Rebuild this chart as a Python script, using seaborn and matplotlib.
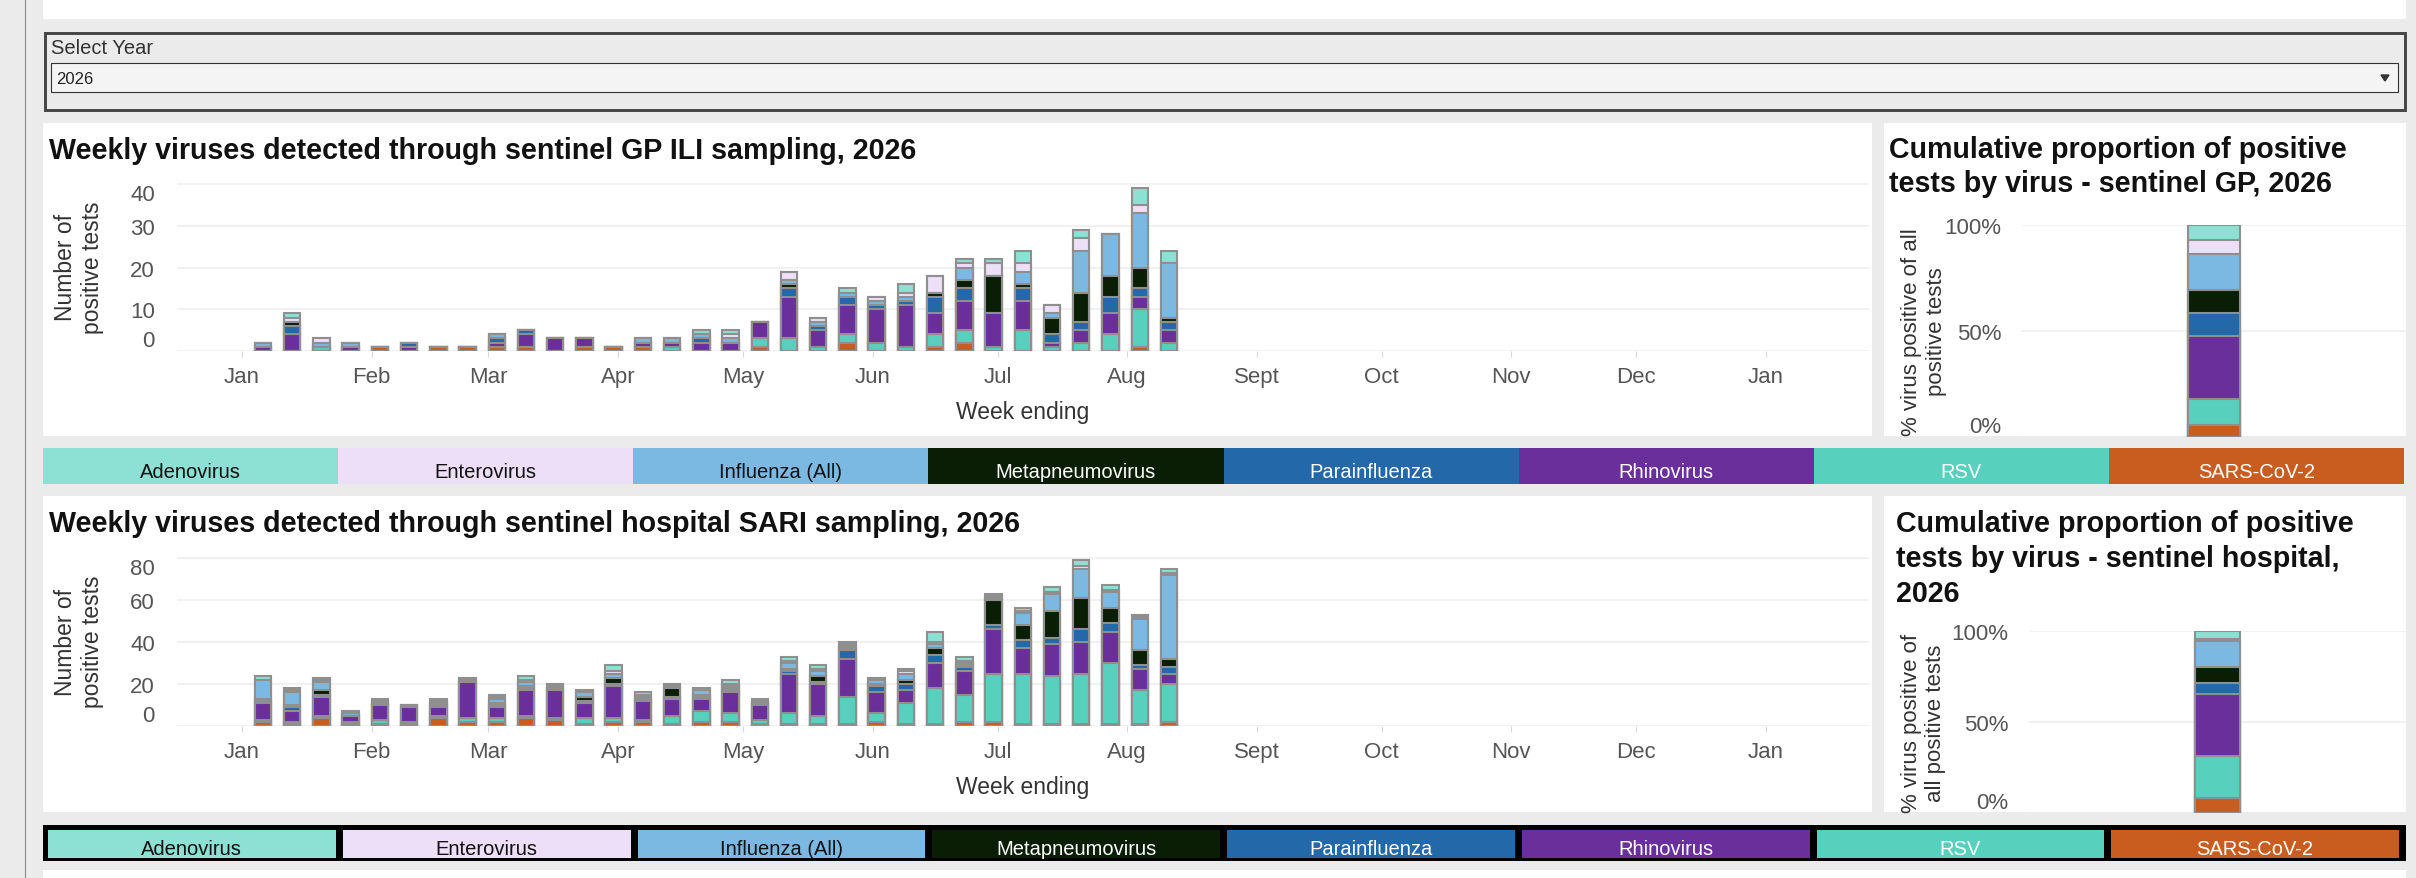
import numpy as np
import pandas as pd
import matplotlib.pyplot as plt
import matplotlib.dates as mdates
from matplotlib.patches import Rectangle, Polygon
import seaborn as sns

# ---------------- data ----------------
viruses = ['Adenovirus', 'Enterovirus', 'Influenza (All)', 'Metapneumovirus',
           'Parainfluenza', 'Rhinovirus', 'RSV', 'SARS-CoV-2']
virus_colors = ['#8de0d4', '#ecdff7', '#7bb9e3', '#0a1e05',
                '#2368a8', '#6a2f9a', '#57d0bd', '#c95d1f']
legend_text_colors = ['#111111', '#111111', '#111111', 'white',
                      'white', 'white', 'white', 'white']

week_ending = ['2026-01-06', '2026-01-13', '2026-01-20', '2026-01-27', '2026-02-03',
               '2026-02-10', '2026-02-17', '2026-02-24', '2026-03-03', '2026-03-10',
               '2026-03-17', '2026-03-24', '2026-03-31', '2026-04-07', '2026-04-14',
               '2026-04-21', '2026-04-28', '2026-05-05', '2026-05-12', '2026-05-19',
               '2026-05-26', '2026-06-02', '2026-06-09', '2026-06-16', '2026-06-23',
               '2026-06-30', '2026-07-07', '2026-07-14', '2026-07-21', '2026-07-28',
               '2026-08-04', '2026-08-11']

# sentinel GP ILI, weekly counts
gp_adeno = [0, 1, 0, 0, 0, 0, 0, 0, 0, 0, 0, 0, 0, 0, 0, 1, 1, 0, 0, 0, 1, 0, 2, 0, 1, 1, 3, 0, 2, 0, 4, 3]
gp_entero = [0, 1, 1, 0, 0, 0, 0, 0, 0, 0, 0, 0, 0, 0, 0, 0, 1, 0, 2, 1, 0, 1, 1, 4, 1, 3, 2, 2, 3, 0, 2, 0]
gp_flu = [1, 0, 1, 1, 0, 0, 0, 0, 1, 0, 0, 0, 0, 1, 1, 1, 1, 0, 1, 1, 1, 1, 1, 0, 3, 0, 3, 1, 10, 10, 13, 13]
gp_meta = [0, 1, 0, 0, 0, 0, 0, 0, 0, 0, 0, 0, 0, 0, 0, 0, 0, 0, 1, 0, 0, 0, 0, 1, 2, 9, 1, 4, 7, 5, 5, 1]
gp_para = [0, 2, 0, 0, 0, 1, 0, 0, 1, 1, 0, 0, 0, 0, 0, 1, 0, 0, 2, 1, 2, 1, 1, 4, 3, 0, 3, 2, 2, 4, 2, 2]
gp_rhino = [1, 4, 0, 1, 0, 1, 0, 0, 1, 3, 3, 2, 0, 1, 1, 2, 2, 4, 10, 4, 7, 8, 10, 5, 7, 8, 7, 1, 3, 5, 3, 3]
gp_rsv = [0, 0, 1, 0, 0, 0, 0, 0, 0, 0, 0, 0, 0, 0, 1, 0, 0, 2, 3, 1, 2, 2, 1, 3, 3, 1, 5, 1, 2, 4, 9, 2]
gp_sars = [0, 0, 0, 0, 1, 0, 1, 1, 1, 1, 0, 1, 1, 1, 0, 0, 0, 1, 0, 0, 2, 0, 0, 1, 2, 0, 0, 0, 0, 0, 1, 0]

# sentinel hospital SARI, weekly counts
sari_adeno = [2, 1, 1, 1, 1, 0, 1, 1, 1, 2, 1, 1, 3, 1, 1, 1, 2, 1, 2, 2, 1, 1, 1, 5, 2, 1, 1, 2, 3, 2, 1, 2]
sari_entero = [0, 1, 1, 0, 0, 0, 0, 0, 1, 1, 0, 0, 1, 0, 0, 0, 1, 0, 1, 1, 1, 0, 1, 1, 1, 1, 1, 1, 1, 1, 1, 1]
sari_flu = [9, 6, 4, 1, 1, 1, 1, 1, 2, 2, 1, 2, 2, 1, 1, 2, 1, 1, 3, 2, 1, 2, 3, 2, 1, 1, 6, 8, 14, 8, 15, 40]
sari_meta = [1, 1, 2, 0, 1, 0, 1, 0, 1, 1, 0, 2, 3, 1, 4, 1, 1, 0, 1, 3, 1, 1, 2, 3, 1, 12, 7, 13, 15, 7, 7, 4]
sari_para = [1, 2, 1, 0, 0, 0, 1, 0, 1, 1, 1, 1, 1, 1, 1, 1, 1, 1, 1, 1, 4, 3, 3, 4, 2, 2, 4, 3, 6, 4, 2, 3]
sari_rhino = [8, 5, 9, 3, 7, 7, 4, 17, 5, 12, 13, 7, 15, 9, 8, 6, 10, 7, 19, 15, 18, 10, 6, 12, 11, 21, 12, 15, 15, 15, 10, 5]
sari_rsv = [1, 1, 1, 1, 2, 1, 1, 2, 2, 1, 1, 3, 2, 1, 4, 5, 4, 2, 5, 4, 13, 4, 10, 17, 13, 23, 24, 23, 24, 29, 16, 18]
sari_sars = [2, 1, 4, 1, 1, 1, 4, 2, 2, 4, 3, 1, 2, 2, 1, 2, 2, 1, 1, 1, 1, 2, 1, 1, 2, 2, 1, 1, 1, 1, 1, 2]

# cumulative proportions (%), legend order
gp_cum_pct = [7.2, 6.4, 17.0, 11.0, 10.6, 30.0, 12.0, 5.8]
hosp_cum_pct = [4.5, 1.0, 14.5, 8.7, 5.8, 34.0, 23.5, 8.0]

month_ticks = ['2026-01-01', '2026-02-01', '2026-03-01', '2026-04-01', '2026-05-01',
               '2026-06-01', '2026-07-01', '2026-08-01', '2026-09-01', '2026-10-01',
               '2026-11-01', '2026-12-01', '2027-01-01']
month_labels = ['Jan', 'Feb', 'Mar', 'Apr', 'May', 'Jun', 'Jul', 'Aug', 'Sept',
                'Oct', 'Nov', 'Dec', 'Jan']

# ---------------- style ----------------
sns.set_theme(style='white')
plt.rcParams['font.family'] = ['Liberation Sans', 'DejaVu Sans']

W, H = 2416, 879
EDGE = '#8f8f8f'
GRID = '#eeeeee'
TICK = '#555555'
TITLE_SIZE = 20.6

fig = plt.figure(figsize=(W / 100, H / 100), dpi=100, facecolor='#ebebeb')


def px_axes(x0, y0, x1, y1):
    return fig.add_axes([x0 / W, 1 - y1 / H, (x1 - x0) / W, (y1 - y0) / H])


# background layer in pixel coordinates
bg = fig.add_axes([0, 0, 1, 1])
bg.set_xlim(0, W)
bg.set_ylim(H, 0)
bg.axis('off')

bg.plot([24.5, 24.5], [0, H], color='#8a8a8a', lw=0.8)
bg.add_patch(Rectangle((43, 0), 2363, 20, color='white', lw=0))
bg.add_patch(Rectangle((44.5, 33.5), 2360, 77, facecolor='#ebebeb', edgecolor='#444444', lw=2.1))
bg.text(51, 49, 'Select Year', fontsize=14.5, color='#333333', va='center')
bg.add_patch(Rectangle((51, 64), 2347, 29, facecolor='#f4f4f4', edgecolor='#333333', lw=0.8))
bg.text(56, 79, '2026', fontsize=12, color='#222222', va='center')
bg.add_patch(Polygon([[2381, 76], [2389, 76], [2385, 82]], closed=True, color='#333333'))

for (x0, y0, x1, y1) in [(43, 124, 1872, 437), (1884, 124, 2406, 437),
                         (43, 497, 1872, 813), (1884, 497, 2406, 813),
                         (43, 871, 2406, 879)]:
    bg.add_patch(Rectangle((x0, y0), x1 - x0, y1 - y0, color='white', lw=0))

# legend strips
cell_w = (2404 - 43) / len(viruses)
for i, (name, col, tcol) in enumerate(zip(viruses, virus_colors, legend_text_colors)):
    x0 = 43 + i * cell_w
    bg.add_patch(Rectangle((x0, 449), cell_w, 36, color=col, lw=0))
    bg.text(x0 + cell_w / 2, 473, name, fontsize=14.5, color=tcol, ha='center', va='center')

bg.add_patch(Rectangle((43, 826), 2363, 36, color='black', lw=0))
cell_w2 = (2406 - 48) / len(viruses)
for i, (name, col, tcol) in enumerate(zip(viruses, virus_colors, legend_text_colors)):
    x0 = 48 + i * cell_w2
    bg.add_patch(Rectangle((x0, 831), cell_w2 - 7, 28, color=col, lw=0))
    bg.text(x0 + (cell_w2 - 7) / 2, 850, name, fontsize=14.5, color=tcol, ha='center', va='center')

# titles
bg.text(49, 151, 'Weekly viruses detected through sentinel GP ILI sampling, 2026',
        fontsize=TITLE_SIZE, fontweight='bold', color='#111111', va='center')
bg.text(1889, 167, 'Cumulative proportion of positive\ntests by virus - sentinel GP, 2026',
        fontsize=TITLE_SIZE, fontweight='bold', color='#111111', va='center', linespacing=1.3)
bg.text(49, 524, 'Weekly viruses detected through sentinel hospital SARI sampling, 2026',
        fontsize=TITLE_SIZE, fontweight='bold', color='#111111', va='center')
bg.text(1896, 559, 'Cumulative proportion of positive\ntests by virus - sentinel hospital,\n2026',
        fontsize=TITLE_SIZE, fontweight='bold', color='#111111', va='center', linespacing=1.3)


def draw_layers(ax, x, counts, width, native):
    # bottom of the stack is the last virus in the legend
    stack = np.array(counts[::-1], dtype=float)
    cols = virus_colors[::-1]
    cum = np.cumsum(stack, axis=0)
    for i in range(len(stack) - 1, -1, -1):
        sns.barplot(x=x, y=cum[i], color=cols[i], saturation=1, width=width,
                    native_scale=native, edgecolor=EDGE, linewidth=1.5,
                    errorbar=None, ax=ax)


def style_weekly(ax, yticks, top):
    ax.set_facecolor('none')
    ax.set_xlim(mdates.date2num(pd.Timestamp('2026-01-01')) - 15.6,
                mdates.date2num(pd.Timestamp('2027-01-01')) + 24.7)
    ax.set_ylim(0, top)
    ax.set_xticks(mdates.date2num(pd.to_datetime(month_ticks)))
    ax.set_xticklabels(month_labels)
    ax.set_yticks(yticks)
    ax.set_yticklabels([str(v) for v in yticks])
    ax.tick_params(axis='x', bottom=True, length=4, width=0.8, color='#d8d8d8',
                   pad=7, labelsize=16, labelcolor=TICK)
    ax.tick_params(axis='y', left=False, pad=10, labelsize=16, labelcolor=TICK)
    labels = ax.get_yticklabels()
    labels[0].set_va('bottom')
    labels[-1].set_va('top')
    ax.grid(axis='y', color=GRID, linewidth=1.1)
    ax.grid(axis='x', visible=False)
    ax.set_axisbelow(True)
    for s in ax.spines.values():
        s.set_visible(False)
    ax.set_ylabel('Number of\npositive tests', fontsize=16.5, color='#333333',
                  ha='center', va='center')
    ax.yaxis.set_label_coords(-0.058, 0.5)
    ax.set_xlabel('Week ending', fontsize=16.5, color='#333333', va='center')


def style_cum(ax, label, label_x):
    ax.set_facecolor('none')
    ax.set_xlim(-0.5, 0.5)
    ax.set_ylim(0, 100)
    ax.set_xticks([])
    ax.set_yticks([0, 50, 100])
    ax.set_yticklabels(['0%', '50%', '100%'])
    ax.tick_params(axis='y', left=False, pad=9, labelsize=16, labelcolor=TICK)
    ax.get_yticklabels()[0].set_va('bottom')
    ax.grid(axis='y', color=GRID, linewidth=1.1)
    ax.set_axisbelow(True)
    for s in ax.spines.values():
        s.set_visible(False)
    ax.set_xlabel('')
    ax.set_ylabel(label, fontsize=16, color='#333333', ha='center', va='center')
    ax.yaxis.set_label_coords(label_x, 0.5)


x_weeks = mdates.date2num(pd.to_datetime(week_ending))

# ---- GP weekly ----
ax_gp = px_axes(177, 183, 1869, 352)
draw_layers(ax_gp, x_weeks,
            [gp_adeno, gp_entero, gp_flu, gp_meta, gp_para, gp_rhino, gp_rsv, gp_sars],
            0.56, True)
style_weekly(ax_gp, [0, 10, 20, 30, 40], 40.5)
ax_gp.xaxis.set_label_coords(0.5, -0.36)

# ---- SARI weekly ----
ax_sari = px_axes(177, 557, 1869, 727)
draw_layers(ax_sari, x_weeks,
            [sari_adeno, sari_entero, sari_flu, sari_meta, sari_para, sari_rhino, sari_rsv, sari_sars],
            0.56, True)
style_weekly(ax_sari, [0, 20, 40, 60, 80], 81)
ax_sari.xaxis.set_label_coords(0.5, -0.353)

# ---- cumulative GP ----
ax_cgp = px_axes(2022, 226, 2406, 438)
draw_layers(ax_cgp, ['2026'], [[v] for v in gp_cum_pct], 0.135, False)
style_cum(ax_cgp, '% virus positive of all\npositive tests', -0.255)

# ---- cumulative hospital ----
ax_chosp = px_axes(2029, 632, 2406, 814)
draw_layers(ax_chosp, ['2026'], [[v] for v in hosp_cum_pct], 0.12, False)
style_cum(ax_chosp, '% virus positive of\nall positive tests', -0.28)

fig.savefig('out.png', dpi=100, facecolor=fig.get_facecolor())
